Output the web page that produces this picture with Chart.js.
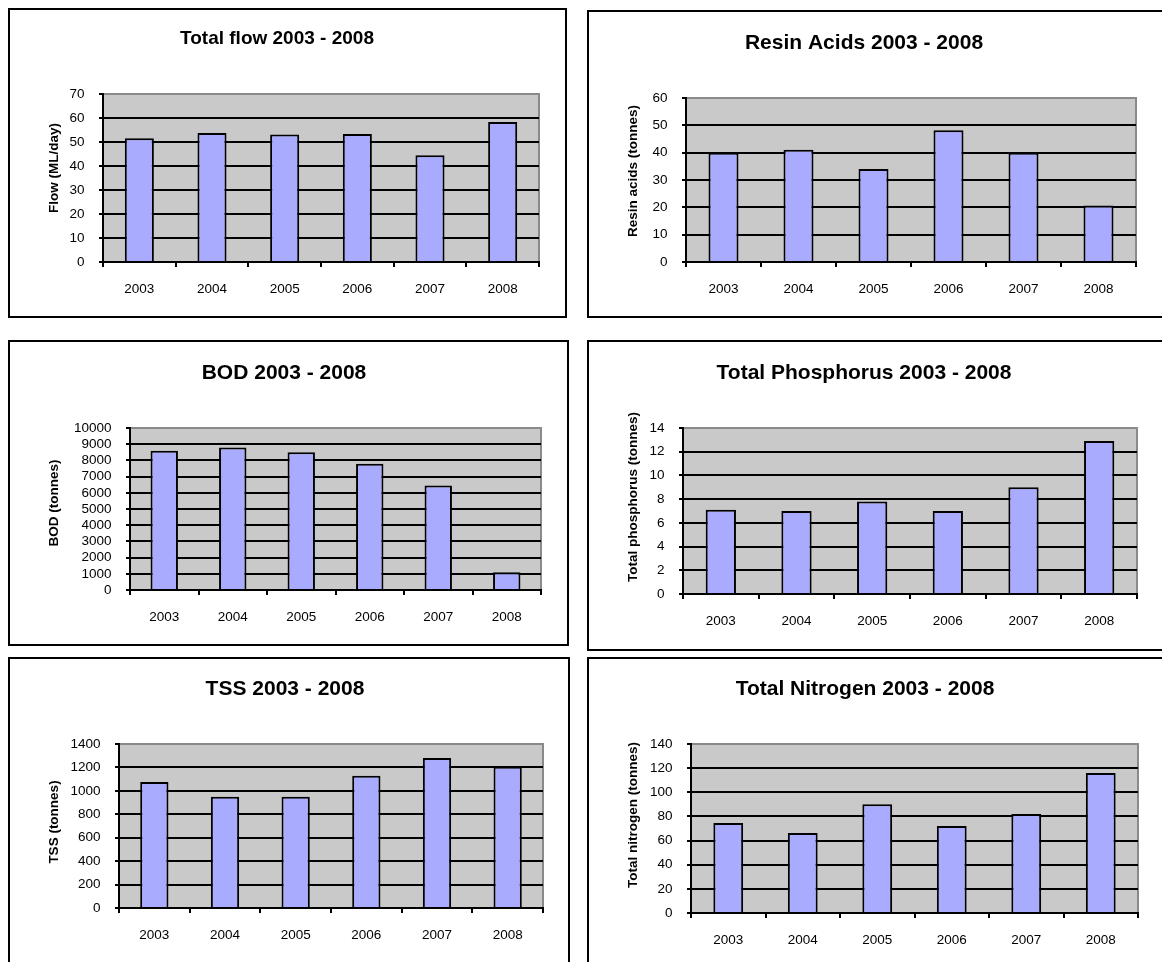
<!DOCTYPE html>
<html>
<head>
<meta charset="utf-8">
<title>Effluent loads 2003 - 2008</title>
<script src="https://cdn.jsdelivr.net/npm/chart.js@4.4.1/dist/chart.umd.min.js"></script>
<style>
  html, body { margin: 0; padding: 0; background: #fff; overflow: hidden; }
  body { width: 1162px; height: 962px; position: relative; }
  .frame { position: absolute; border: 2px solid #000; box-sizing: border-box; }
  canvas { position: absolute; }
</style>
</head>
<body>
<script>
// ---- data ----
const years = ['2003', '2004', '2005', '2006', '2007', '2008'];
const flowValues = [51.6, 53.7, 53.1, 53.3, 44.5, 58.3];          // ML/day
const resinAcidValues = [40.0, 41.1, 34.0, 48.2, 40.0, 20.7];     // tonnes
const bodValues = [8600, 8800, 8500, 7800, 6450, 1100];           // tonnes
const phosphorusValues = [7.1, 7.0, 7.8, 7.0, 9.0, 12.9];         // tonnes
const tssValues = [1075, 950, 950, 1130, 1280, 1205];             // tonnes
const nitrogenValues = [74.6, 66.3, 90.0, 72.1, 82.0, 116.0];     // tonnes

const chartTitles = ['Total flow 2003 - 2008', 'Resin Acids 2003 - 2008', 'BOD 2003 - 2008',
                     'Total Phosphorus 2003 - 2008', 'TSS 2003 - 2008', 'Total Nitrogen 2003 - 2008'];
const axisTitles = ['Flow (ML/day)', 'Resin acids (tonnes)', 'BOD (tonnes)',
                    'Total phosphorus (tonnes)', 'TSS (tonnes)', 'Total nitrogen (tonnes)'];
const axisMax = [70, 60, 10000, 14, 1400, 140];
const axisStep = [10, 10, 1000, 2, 200, 20];
const seriesList = [flowValues, resinAcidValues, bodValues, phosphorusValues, tssValues, nitrogenValues];

// ---- page layout (page pixels) ----
const layouts = [
  { frame: [8, 8, 559, 310],   canvas: [0, 0, 578, 330],     plot: [103, 94, 539, 262],  titleAt: [277, 39],  titleSize: 19, axisAt: [54, 168] },
  { frame: [587, 10, 700, 308], canvas: [578, 0, 584, 330],  plot: [686, 98, 1136, 262], titleAt: [864, 43],  titleSize: 21, axisAt: [633, 171] },
  { frame: [8, 340, 561, 306], canvas: [0, 330, 578, 322],   plot: [130, 428, 541, 590], titleAt: [284, 373], titleSize: 21, axisAt: [54, 503] },
  { frame: [587, 340, 700, 311], canvas: [578, 330, 584, 322], plot: [683, 428, 1137, 594], titleAt: [864, 373], titleSize: 21, axisAt: [633, 497] },
  { frame: [8, 657, 562, 400], canvas: [0, 652, 578, 310],   plot: [119, 744, 543, 908], titleAt: [285, 689], titleSize: 21, axisAt: [54, 822] },
  { frame: [587, 657, 700, 400], canvas: [578, 652, 584, 310], plot: [691, 744, 1138, 913], titleAt: [865, 689], titleSize: 21, axisAt: [633, 815] }
];

const FONT = '"Liberation Sans", Arial, Helvetica, sans-serif';
Chart.defaults.font.family = FONT;
Chart.defaults.color = '#000';

// grey plot-area fill with a grey edge on top and right
const plotBackground = {
  id: 'plotBackground',
  beforeDraw(chart, args, opts) {
    const { ctx, chartArea: { left, top, right, bottom } } = chart;
    ctx.save();
    ctx.fillStyle = opts.fill;
    ctx.fillRect(left, top, right - left, bottom - top);
    ctx.strokeStyle = opts.edge;
    ctx.lineWidth = 2;
    ctx.beginPath();
    ctx.moveTo(left, top);
    ctx.lineTo(right, top);
    ctx.lineTo(right, bottom);
    ctx.stroke();
    ctx.restore();
  }
};

// chart heading and rotated value-axis caption
const panelText = {
  id: 'panelText',
  afterDraw(chart, args, opts) {
    const ctx = chart.ctx;
    ctx.save();
    ctx.fillStyle = '#000';
    ctx.textAlign = 'center';
    ctx.textBaseline = 'middle';
    ctx.font = 'bold ' + opts.titleSize + 'px ' + FONT;
    ctx.fillText(opts.title, opts.titleX, opts.titleY);
    ctx.translate(opts.axisX, opts.axisY);
    ctx.rotate(-Math.PI / 2);
    ctx.font = 'bold 13.5px ' + FONT;
    ctx.fillText(opts.axisTitle, 0, 0);
    ctx.restore();
  }
};

layouts.forEach((L) => {
  const frame = document.createElement('div');
  frame.className = 'frame';
  frame.style.left = L.frame[0] + 'px';
  frame.style.top = L.frame[1] + 'px';
  frame.style.width = L.frame[2] + 'px';
  frame.style.height = L.frame[3] + 'px';
  document.body.appendChild(frame);
});

layouts.forEach((L, i) => {
  const [cx, cy, cw, ch] = L.canvas;
  const [pl, pt, pr, pb] = L.plot;
  const canvas = document.createElement('canvas');
  canvas.width = cw;
  canvas.height = ch;
  canvas.style.left = cx + 'px';
  canvas.style.top = cy + 'px';
  canvas.style.width = cw + 'px';
  canvas.style.height = ch + 'px';
  document.body.appendChild(canvas);

  const max = axisMax[i];
  new Chart(canvas, {
    type: 'bar',
    data: {
      labels: years,
      datasets: [{
        label: axisTitles[i],
        data: seriesList[i],
        backgroundColor: '#A9ABFF',
        borderColor: '#000',
        borderWidth: 2,
        barPercentage: 0.4,
        categoryPercentage: 1.0
      }]
    },
    options: {
      responsive: false,
      animation: false,
      devicePixelRatio: 1,
      layout: { padding: { left: 0, top: pt - cy, right: cx + cw - pr, bottom: 0 } },
      plugins: {
        legend: { display: false },
        tooltip: { enabled: false },
        plotBackground: { fill: '#C9C9C9', edge: '#8A8A8A' },
        panelText: {
          title: chartTitles[i], titleSize: L.titleSize,
          titleX: L.titleAt[0] - cx, titleY: L.titleAt[1] - cy,
          axisTitle: axisTitles[i], axisX: L.axisAt[0] - cx, axisY: L.axisAt[1] - cy
        }
      },
      scales: {
        x: {
          offset: true,
          grid: { display: true, offset: true, drawOnChartArea: false, drawTicks: true,
                  tickLength: 5, color: '#000', lineWidth: 2 },
          border: { display: true, color: '#000', width: 2 },
          ticks: { color: '#000', font: { size: 13.5 }, padding: 14.5, maxRotation: 0, autoSkip: false },
          afterFit(scale) { scale.height = cy + ch - pb; }
        },
        y: {
          min: 0,
          max: max,
          grid: {
            color: (c) => (c.tick && c.tick.value === max ? '#8A8A8A' : '#000'),
            tickColor: '#000',
            lineWidth: 2,
            drawTicks: true,
            tickLength: 4
          },
          border: { display: true, color: '#000', width: 2 },
          ticks: {
            stepSize: axisStep[i], autoSkip: false, color: '#000', font: { size: 13.5 }, padding: 14.5,
            callback: (value) => String(value)
          },
          afterFit(scale) { scale.width = pl - cx; }
        }
      }
    },
    plugins: [plotBackground, panelText]
  });
});
</script>
</body>
</html>
